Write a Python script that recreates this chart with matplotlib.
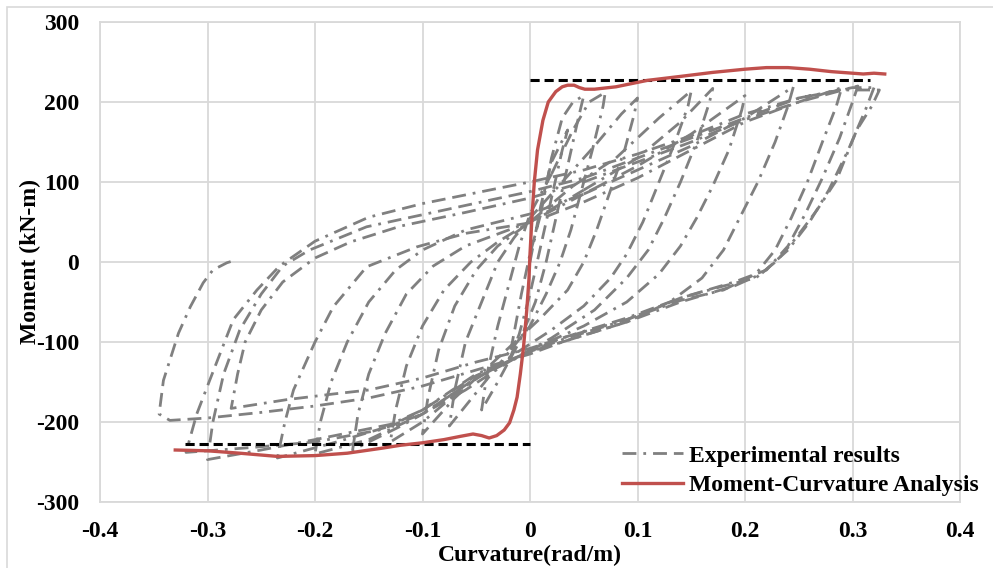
import matplotlib.pyplot as plt
from matplotlib.patches import Rectangle

plt.rcParams['font.family'] = 'Liberation Serif'
plt.rcParams['font.weight'] = 'bold'
plt.rcParams['axes.unicode_minus'] = False

# moment-curvature analysis (red)
mc_curv = [-0.33, -0.30, -0.27, -0.235, -0.2, -0.17, -0.139, -0.12, -0.1, -0.08, -0.065, -0.053,
           -0.045, -0.038, -0.031, -0.024, -0.019, -0.015, -0.012, -0.009, -0.006, -0.003, -0.001,
           0.0, 0.002, 0.004, 0.007, 0.012, 0.017, 0.024, 0.03, 0.035, 0.041, 0.046, 0.051, 0.06,
           0.08, 0.109, 0.14, 0.17, 0.2, 0.22, 0.24, 0.26, 0.28, 0.3, 0.31, 0.32, 0.33]
mc_mom = [-235, -236, -239, -243, -242, -239, -233, -229, -226, -222, -218, -215,
          -217, -220, -217, -210, -201, -185, -169, -140, -106, -60, -22,
          10, 60, 100, 140, 177, 200, 213, 219, 221, 221, 218, 216, 216,
          219, 227, 232, 237, 241, 243, 243, 241, 238, 236, 235, 236, 235]

# idealised capacity lines (black dashed)
cap_pos_curv = [0.0, 0.316]
cap_pos_mom = [228, 228]
cap_neg_curv = [-0.321, 0.0]
cap_neg_mom = [-227, -227]

# experimental hysteresis cycles, (curvature, moment)
cyc1 = [(0.0, 0), (0.01, 70), (0.02, 125), (0.035, 165), (0.03, 140), (0.02, 80), (0.01, 20),
        (0.0, -40), (-0.01, -90), (-0.02, -125), (-0.015, -90), (-0.008, -40), (0.0, 10), (0.01, 60)]
cyc2 = [(0.01, 60), (0.02, 130), (0.03, 180), (0.04, 200), (0.05, 208), (0.045, 180), (0.035, 120),
        (0.025, 60), (0.015, 0), (0.005, -50), (-0.01, -100), (-0.03, -150), (-0.045, -185),
        (-0.04, -140), (-0.03, -80), (-0.02, -30), (-0.01, 20), (0.0, 60), (0.02, 110)]
cyc3 = [(0.02, 110), (0.04, 165), (0.055, 200), (0.07, 212), (0.068, 195), (0.058, 140), (0.048, 90),
        (0.038, 40), (0.028, 0), (0.015, -40), (0.0, -80), (-0.03, -130), (-0.06, -180), (-0.075, -205),
        (-0.07, -160), (-0.06, -100), (-0.045, -50), (-0.03, 0), (-0.015, 30), (0.0, 55), (0.03, 100)]
cyc4 = [(0.03, 100), (0.06, 145), (0.085, 185), (0.1, 205), (0.097, 185), (0.088, 140), (0.075, 90),
        (0.062, 40), (0.05, 0), (0.035, -35), (0.01, -70), (-0.03, -120), (-0.07, -170), (-0.1, -215),
        (-0.095, -170), (-0.085, -110), (-0.07, -55), (-0.05, -10), (-0.03, 20), (0.0, 50), (0.04, 95)]
cyc5 = [(0.04, 95), (0.08, 130), (0.12, 180), (0.15, 214), (0.147, 195), (0.135, 150), (0.12, 100),
        (0.105, 50), (0.09, 10), (0.075, -20), (0.05, -55), (0.02, -85), (-0.02, -120), (-0.06, -155),
        (-0.1, -200), (-0.13, -225), (-0.125, -185), (-0.115, -130), (-0.1, -80), (-0.08, -35),
        (-0.055, 0), (-0.03, 25), (0.0, 50), (0.05, 90)]
cyc6 = [(0.05, 90), (0.1, 130), (0.14, 175), (0.17, 217), (0.167, 200), (0.155, 150), (0.14, 100),
        (0.125, 55), (0.11, 15), (0.09, -20), (0.06, -60), (0.02, -95), (-0.02, -125), (-0.06, -160),
        (-0.12, -205), (-0.165, -235), (-0.16, -190), (-0.15, -140), (-0.135, -90), (-0.115, -40),
        (-0.09, -5), (-0.06, 20), (-0.03, 35), (0.0, 50), (0.06, 92)]
cyc7 = [(0.06, 92), (0.1, 120), (0.15, 160), (0.2, 208), (0.197, 190), (0.185, 140), (0.17, 95),
        (0.155, 55), (0.14, 20), (0.12, -15), (0.09, -50), (0.05, -80), (0.0, -110), (-0.05, -145),
        (-0.1, -190), (-0.15, -222), (-0.2, -240), (-0.195, -200), (-0.185, -150), (-0.17, -100),
        (-0.15, -50), (-0.125, -10), (-0.1, 15), (-0.06, 40), (0.0, 60), (0.05, 85)]
cyc8 = [(0.05, 85), (0.1, 115), (0.15, 145), (0.2, 180), (0.245, 219), (0.24, 195), (0.228, 150),
        (0.212, 100), (0.195, 55), (0.18, 15), (0.16, -20), (0.13, -50), (0.09, -75), (0.03, -100),
        (0.0, -112), (-0.05, -140), (-0.1, -185), (-0.13, -205), (-0.18, -225), (-0.235, -245),
        (-0.228, -200), (-0.22, -160), (-0.2, -100), (-0.183, -56), (-0.152, -6), (-0.105, 19),
        (-0.059, 36), (0.0, 49), (0.05, 75)]
cyc9 = [(0.05, 75), (0.1, 105), (0.15, 140), (0.2, 175), (0.25, 200), (0.29, 218), (0.285, 195),
        (0.272, 150), (0.258, 100), (0.243, 55), (0.228, 15), (0.21, -15), (0.18, -35), (0.14, -48),
        (0.09, -72), (0.03, -95), (0.0, -108), (-0.05, -125), (-0.1, -145), (-0.15, -160),
        (-0.183, -165), (-0.226, -172), (-0.278, -183), (-0.272, -140), (-0.265, -100), (-0.25, -60),
        (-0.23, -25), (-0.2, 5), (-0.167, 25), (-0.12, 45), (-0.06, 62), (0.0, 80), (0.05, 100)]
cyc10 = [(0.05, 100), (0.1, 125), (0.15, 150), (0.2, 178), (0.25, 200), (0.305, 220), (0.3, 200),
         (0.288, 155), (0.272, 105), (0.256, 60), (0.24, 20), (0.22, -10), (0.19, -25), (0.14, -45),
         (0.09, -70), (0.03, -95), (0.0, -112), (-0.05, -142), (-0.1, -185), (-0.13, -203),
         (-0.2, -222), (-0.25, -235), (-0.3, -247), (-0.295, -200), (-0.285, -140), (-0.27, -85),
         (-0.25, -40), (-0.23, -5), (-0.205, 15), (-0.152, 44), (-0.09, 62), (-0.028, 80),
         (0.0, 88), (0.05, 105)]
cyc11 = [(0.05, 105), (0.1, 130), (0.15, 155), (0.2, 180), (0.25, 205), (0.29, 215), (0.325, 215),
         (0.318, 195), (0.304, 165), (0.285, 102), (0.267, 65), (0.248, 31), (0.23, 2), (0.21, -20),
         (0.18, -30), (0.14, -45), (0.09, -72), (0.03, -97), (0.0, -112), (-0.05, -145),
         (-0.1, -190), (-0.14, -210), (-0.2, -225), (-0.26, -232), (-0.32, -238), (-0.31, -190),
         (-0.298, -148), (-0.276, -72), (-0.254, -35), (-0.233, -5), (-0.2, 26), (-0.15, 56),
         (-0.1, 73), (-0.03, 92), (0.0, 100), (0.05, 115), (0.1, 135), (0.15, 158), (0.2, 185),
         (0.25, 205), (0.3, 218), (0.32, 218)]
cyc12 = [(0.32, 218), (0.312, 190), (0.296, 140), (0.278, 90), (0.26, 50), (0.24, 15), (0.215, -15),
         (0.19, -30), (0.14, -50), (0.09, -75), (0.03, -100), (0.0, -115), (-0.05, -135),
         (-0.1, -155), (-0.15, -170), (-0.2, -180), (-0.25, -188), (-0.3, -195), (-0.335, -198),
         (-0.345, -190), (-0.341, -148), (-0.327, -89), (-0.316, -56), (-0.304, -26), (-0.295, -10),
         (-0.282, -1), (-0.275, 2)]
cycles = [cyc1, cyc2, cyc3, cyc4, cyc5, cyc6, cyc7, cyc8, cyc9, cyc10, cyc11, cyc12]

x_ticks = [-0.4, -0.3, -0.2, -0.1, 0, 0.1, 0.2, 0.3, 0.4]
x_labels = ['-0.4', '-0.3', '-0.2', '-0.1', '0', '0.1', '0.2', '0.3', '0.4']
y_ticks = [-300, -200, -100, 0, 100, 200, 300]

fig = plt.figure(figsize=(9.93, 5.68), dpi=100)
ax = fig.add_axes([100/993, 1 - 502/568, 860/993, 480/568])

grey = '#808080'
dashdot = (0, (5, 2.5, 1, 2.5, 5, 2.5))
for i, cyc in enumerate(cycles):
    xs = [p[0] for p in cyc]
    ys = [p[1] for p in cyc]
    ax.plot(xs, ys, color=grey, lw=2.0, linestyle=dashdot, zorder=2,
            label='Experimental results' if i == 0 else None)

ax.plot(cap_pos_curv, cap_pos_mom, color='black', lw=2.2, linestyle=(0, (3, 1.6)), zorder=3)
ax.plot(cap_neg_curv, cap_neg_mom, color='black', lw=2.2, linestyle=(0, (3, 1.6)), zorder=3)
ax.plot(mc_curv, mc_mom, color='#c0504d', lw=2.4, zorder=4, label='Moment-Curvature Analysis')

ax.set_xlim(-0.4, 0.4)
ax.set_ylim(-300, 300)
ax.set_xticks(x_ticks)
ax.set_xticklabels(x_labels)
ax.set_yticks(y_ticks)
ax.grid(True, color='#d9d9d9', lw=1.3)
ax.set_axisbelow(True)
for s in ax.spines.values():
    s.set_color('#d9d9d9')
    s.set_linewidth(1.3)
ax.tick_params(length=0, labelsize=17, pad=14)
ax.tick_params(axis='y', pad=15)

ax.set_xlabel('Curvature(rad/m)', fontsize=17, fontweight='bold', labelpad=2)
ax.set_ylabel('Moment (kN-m)', fontsize=17, fontweight='bold', labelpad=-4)

fig.legend(loc='upper left', bbox_to_anchor=(622/993, 1 - 445/568), frameon=False,
           fontsize=17, handlelength=2.6, handletextpad=0.25, labelspacing=0.35,
           borderpad=0, borderaxespad=0)

fig.patches.append(Rectangle((7/993, -0.01), 1.0, 1 - 7/568 + 0.01, transform=fig.transFigure,
                             fill=False, edgecolor='#d9d9d9', lw=1.2))

fig.savefig('out.png', dpi=100)
